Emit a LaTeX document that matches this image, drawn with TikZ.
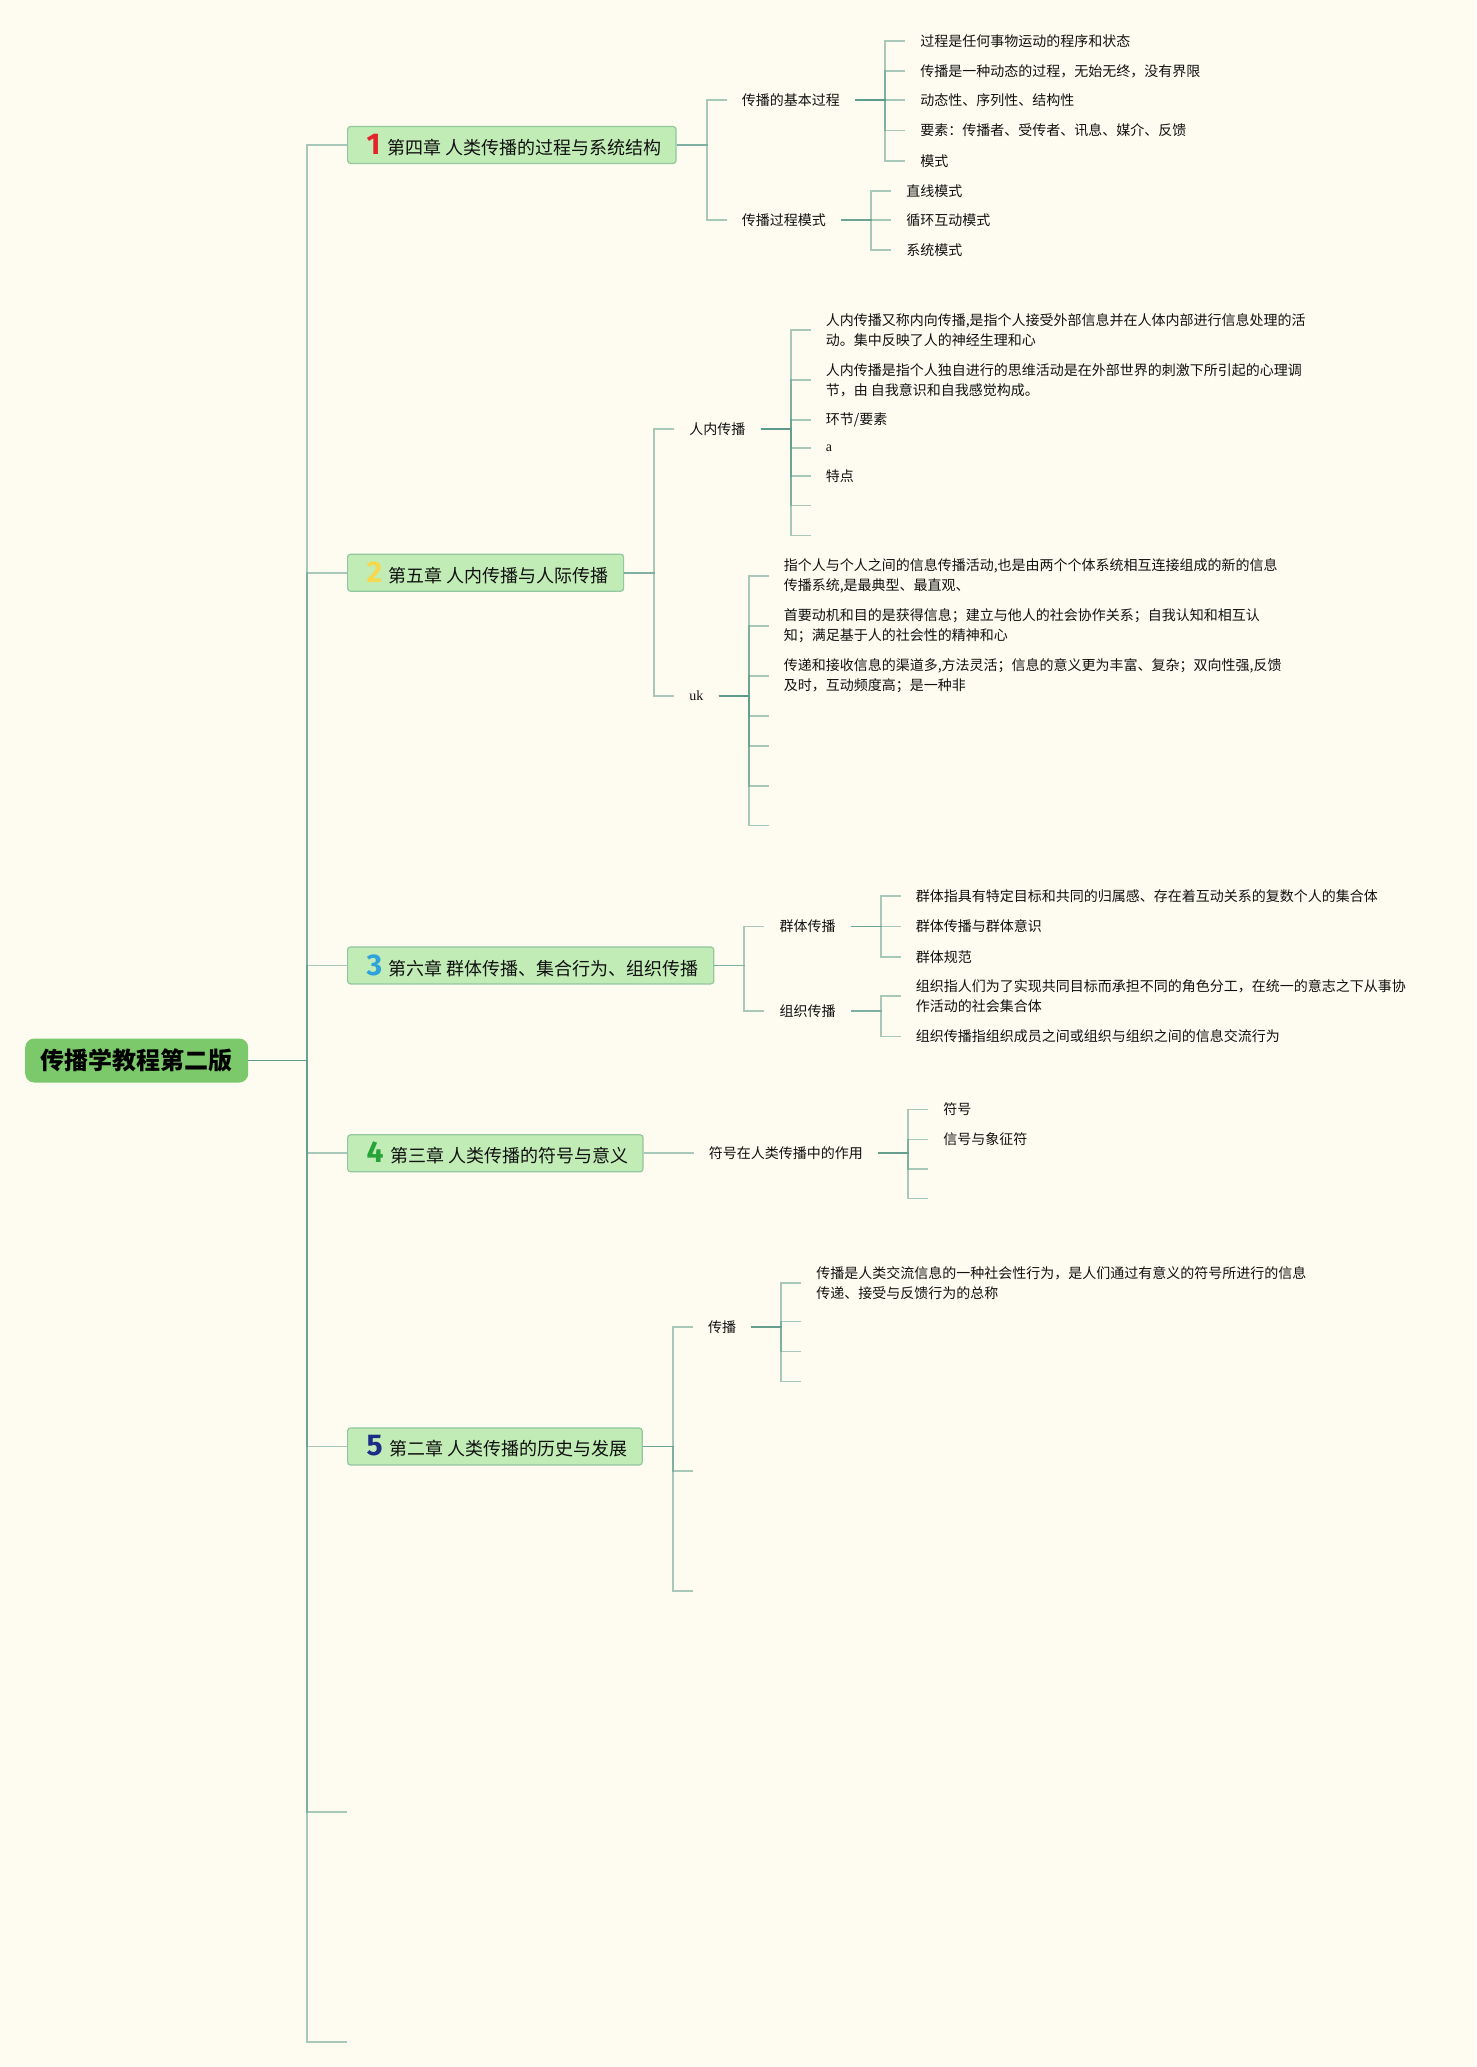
\documentclass[tikz,border=0pt]{standalone}
\usepackage{fontspec}
\setmainfont{Noto Sans CJK SC}
\newfontfamily\badgefont{Fira Sans}
\newfontfamily\serifx{Liberation Serif}
\usetikzlibrary{calc}
\definecolor{bgc}{HTML}{FEFCF0}
\definecolor{lnc}{HTML}{5C9A8B}
\definecolor{txt}{HTML}{111111}
\definecolor{chf}{HTML}{C1ECB6}
\definecolor{chb}{HTML}{92C7A0}
\definecolor{rootf}{HTML}{7CC96B}
\definecolor{n1}{HTML}{E3242B}
\definecolor{n2}{HTML}{F7D84C}
\definecolor{n3}{HTML}{2DA2DC}
\definecolor{n4}{HTML}{27A238}
\definecolor{n5}{HTML}{1D2C86}
\newcommand\bdg[2]{\hspace*{19pt}{\badgefont\bfseries\fontsize{30}{30}\selectfont\textcolor{#1}{#2}}\hspace{6.5pt}}
\begin{document}
\begin{tikzpicture}[x=1pt,y=-1pt,
  lv/.style={anchor=west, inner xsep=15pt, inner ysep=2pt, font=\fontsize{14}{20}\selectfont, text=txt, align=left},
  emp/.style={anchor=west, inner sep=0pt, minimum size=0pt},
  twig/.style={draw=lnc, line width=1.8pt, opacity=0.53},
  chap/.style={anchor=west, draw=chb, line width=1.2pt, fill=chf, rounded corners=3pt, inner xsep=0pt, inner ysep=0pt, minimum height=37pt, font=\fontsize{18}{18}\selectfont, text=txt},
  rootn/.style={anchor=west, fill=rootf, rounded corners=9pt, inner xsep=15.5pt, inner ysep=0pt, minimum height=44pt, font=\bfseries\fontsize{24}{24}\selectfont, text=black}
]
\fill[bgc] (0,0) rectangle (1476,2067);
\useasboundingbox (0,0) rectangle (1476,2067);

% root
\node[rootn] (root) at (25,1060.5) {传播学教程第二版};
\coordinate (j0) at (307,1060.5);
\node[chap] (c1) at (347,145) {\bdg{n1}{1}第四章 人类传播的过程与系统结构\hspace*{15pt}};
\node[chap] (c2) at (347,572.7) {\bdg{n2}{2}第五章 人内传播与人际传播\hspace*{15pt}};
\node[chap] (c3) at (347,965.4) {\bdg{n3}{3}第六章 群体传播、集合行为、组织传播\hspace*{15pt}};
\node[chap] (c4) at (347,1153.3) {\bdg{n4}{4}第三章 人类传播的符号与意义\hspace*{15pt}};
\node[chap] (c5) at (347,1446.5) {\bdg{n5}{5}第二章 人类传播的历史与发展\hspace*{15pt}};
\node[emp] (c6) at (347,1811.7) {};
\node[emp] (c7) at (347,2041.7) {};
\foreach \k in {1,...,7} \draw[twig] (root.east) -- (j0) |- (c\k.west);

% chapter 1
\path (c1.east) ++(30,0) coordinate (j1) ++(20,0) coordinate (s1);
\node[lv] (a1) at (s1 |- 0,100) {传播的基本过程};
\node[lv] (a2) at (s1 |- 0,220) {传播过程模式};
\foreach \k in {1,2} \draw[twig] (c1.east) -- (j1) |- (a\k.west);
\path (a1.east) ++(30,0) coordinate (ja1) ++(20,0) coordinate (sa1);
\node[lv] (a11) at (sa1 |- 0,41) {过程是任何事物运动的程序和状态};
\node[lv] (a12) at (sa1 |- 0,71) {传播是一种动态的过程，无始无终，没有界限};
\node[lv] (a13) at (sa1 |- 0,100) {动态性、序列性、结构性};
\node[lv] (a14) at (sa1 |- 0,130.5) {要素：传播者、受传者、讯息、媒介、反馈};
\node[lv] (a15) at (sa1 |- 0,161) {模式};
\foreach \k in {1,...,5} \draw[twig] (a1.east) -- (ja1) |- (a1\k.west);
\path (a2.east) ++(30,0) coordinate (ja2) ++(20,0) coordinate (sa2);
\node[lv] (a21) at (sa2 |- 0,191) {直线模式};
\node[lv] (a22) at (sa2 |- 0,220) {循环互动模式};
\node[lv] (a23) at (sa2 |- 0,250) {系统模式};
\foreach \k in {1,2,3} \draw[twig] (a2.east) -- (ja2) |- (a2\k.west);

% chapter 2
\path (c2.east) ++(30,0) coordinate (j2) ++(20,0) coordinate (s2);
\node[lv] (b1) at (s2 |- 0,429) {人内传播};
\node[lv] (b2) at (s2 |- 0,696) {\serifx uk};
\foreach \k in {1,2} \draw[twig] (c2.east) -- (j2) |- (b\k.west);
\path (b1.east) ++(30,0) coordinate (jb1) ++(20,0) coordinate (sb1);
\node[lv] (b11) at (sb1 |- 0,330) {人内传播又称内向传播,是指个人接受外部信息并在人体内部进行信息处理的活\\动。集中反映了人的神经生理和心};
\node[lv] (b12) at (sb1 |- 0,380) {人内传播是指个人独自进行的思维活动是在外部世界的刺激下所引起的心理调\\节，由 自我意识和自我感觉构成。};
\node[lv] (b13) at (sb1 |- 0,420) {环节/要素};
\node[lv] (b14) at (sb1 |- 0,448) {\serifx a};
\node[lv] (b15) at (sb1 |- 0,476) {特点};
\node[emp] (b16) at (sb1 |- 0,505.5) {};
\node[emp] (b17) at (sb1 |- 0,535.5) {};
\foreach \k in {1,...,7} \draw[twig] (b1.east) -- (jb1) |- (b1\k.west);
\path (b2.east) ++(30,0) coordinate (jb2) ++(20,0) coordinate (sb2);
\node[lv] (b21) at (sb2 |- 0,576) {指个人与个人之间的信息传播活动,也是由两个个体系统相互连接组成的新的信息\\传播系统,是最典型、最直观、};
\node[lv] (b22) at (sb2 |- 0,626) {首要动机和目的是获得信息；建立与他人的社会协作关系；自我认知和相互认\\知；满足基于人的社会性的精神和心};
\node[lv] (b23) at (sb2 |- 0,676) {传递和接收信息的渠道多,方法灵活；信息的意义更为丰富、复杂；双向性强,反馈\\及时，互动频度高；是一种非};
\node[emp] (b24) at (sb2 |- 0,715.6) {};
\node[emp] (b25) at (sb2 |- 0,746) {};
\node[emp] (b26) at (sb2 |- 0,785.6) {};
\node[emp] (b27) at (sb2 |- 0,825.5) {};
\foreach \k in {1,...,7} \draw[twig] (b2.east) -- (jb2) |- (b2\k.west);

% chapter 3
\path (c3.east) ++(30,0) coordinate (j3) ++(20,0) coordinate (s3);
\node[lv] (d1) at (s3 |- 0,926.5) {群体传播};
\node[lv] (d2) at (s3 |- 0,1011) {组织传播};
\foreach \k in {1,2} \draw[twig] (c3.east) -- (j3) |- (d\k.west);
\path (d1.east) ++(30,0) coordinate (jd1) ++(20,0) coordinate (sd1);
\node[lv] (d11) at (sd1 |- 0,896.2) {群体指具有特定目标和共同的归属感、存在着互动关系的复数个人的集合体};
\node[lv] (d12) at (sd1 |- 0,926.5) {群体传播与群体意识};
\node[lv] (d13) at (sd1 |- 0,956.8) {群体规范};
\foreach \k in {1,2,3} \draw[twig] (d1.east) -- (jd1) |- (d1\k.west);
\path (d2.east) ++(30,0) coordinate (jd2) ++(20,0) coordinate (sd2);
\node[lv] (d21) at (sd2 |- 0,996) {组织指人们为了实现共同目标而承担不同的角色分工，在统一的意志之下从事协\\作活动的社会集合体};
\node[lv] (d22) at (sd2 |- 0,1036.5) {组织传播指组织成员之间或组织与组织之间的信息交流行为};
\foreach \k in {1,2} \draw[twig] (d2.east) -- (jd2) |- (d2\k.west);

% chapter 4
\path (c4.east) ++(30,0) coordinate (j4) ++(20,0) coordinate (s4);
\node[lv] (f1) at (s4 |- 0,1153.3) {符号在人类传播中的作用};
\draw[twig] (c4.east) -- (j4) |- (f1.west);
\path (f1.east) ++(30,0) coordinate (jf1) ++(20,0) coordinate (sf1);
\node[lv] (f11) at (sf1 |- 0,1109.5) {符号};
\node[lv] (f12) at (sf1 |- 0,1139.5) {信号与象征符};
\node[emp] (f13) at (sf1 |- 0,1169) {};
\node[emp] (f14) at (sf1 |- 0,1198.5) {};
\foreach \k in {1,...,4} \draw[twig] (f1.east) -- (jf1) |- (f1\k.west);

% chapter 5
\path (c5.east) ++(30,0) coordinate (j5) ++(20,0) coordinate (s5);
\node[lv] (g1) at (s5 |- 0,1327) {传播};
\node[emp] (g2) at (s5 |- 0,1471.3) {};
\node[emp] (g3) at (s5 |- 0,1591.2) {};
\foreach \k in {1,2,3} \draw[twig] (c5.east) -- (j5) |- (g\k.west);
\path (g1.east) ++(30,0) coordinate (jg1) ++(20,0) coordinate (sg1);
\node[lv] (g11) at (sg1 |- 0,1283) {传播是人类交流信息的一种社会性行为，是人们通过有意义的符号所进行的信息\\传递、接受与反馈行为的总称};
\node[emp] (g12) at (sg1 |- 0,1321.5) {};
\node[emp] (g13) at (sg1 |- 0,1351.5) {};
\node[emp] (g14) at (sg1 |- 0,1381.5) {};
\foreach \k in {1,...,4} \draw[twig] (g1.east) -- (jg1) |- (g1\k.west);
\end{tikzpicture}
\end{document}
